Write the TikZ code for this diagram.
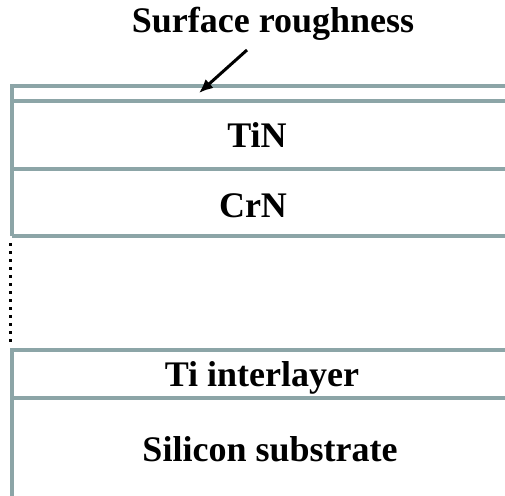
\documentclass[tikz,border=0pt]{standalone}
\usepackage{fontspec}
\setmainfont{Liberation Serif}
\usepackage{xcolor}
\usetikzlibrary{arrows.meta, positioning}
\definecolor{layergray}{RGB}{140,165,167}

\tikzset{
	layer/.style={draw=layergray, line width=2pt},
	lbl/.style={anchor=base, font=\fontsize{18}{21}\selectfont\bfseries, inner sep=0pt}
}

\begin{document}
\begin{tikzpicture}[x=0.5pt, y=-0.5pt]
	\useasboundingbox (0,0) rectangle (505,496);
	% coating stack
	\draw[layer] (505,86) -- (12,86) -- (12,236);
	\draw[layer] (12,101) -- (505,101);
	\draw[layer] (12,169) -- (505,169);
	\draw[layer] (12,236) -- (505,236);
	\draw[layer] (12,496) -- (12,350) -- (505,350);
	\draw[layer] (12,398) -- (505,398);
	\foreach \k in {0,...,12}
		\fill (9,243+8*\k) rectangle ++(3.5,3.5);
	
	\node[lbl] (rough) at (273,33) {Surface roughness};
	\node[lbl] (tin) at (257,148) {TiN};
	\node[lbl] (crn) at (253,218) {CrN};
	\node[lbl] (ti) at (262,387) {Ti interlayer};
	\node[lbl] (si) at (270,462) {Silicon substrate};
	
	\coordinate (tail) at (247,50);
	\coordinate (surf) at (199,93);
	\draw[line width=1.5pt, -{Latex[length=7pt, width=6pt]}] (tail) -- (surf);
\end{tikzpicture}
\end{document}
